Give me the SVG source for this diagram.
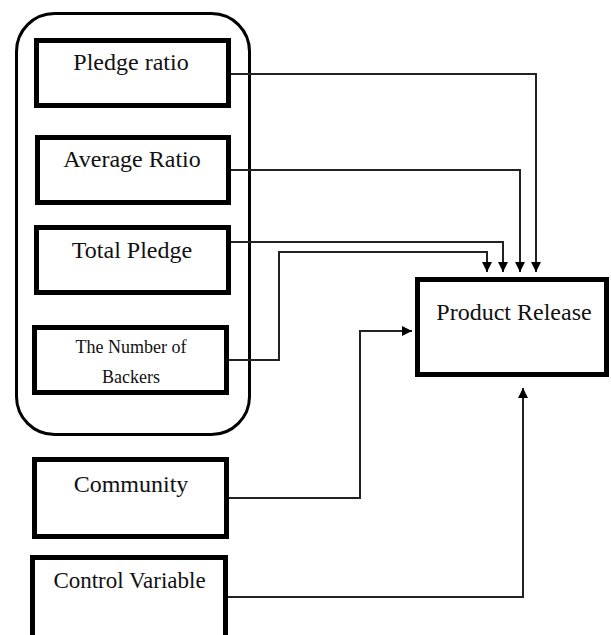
<svg xmlns="http://www.w3.org/2000/svg" width="611" height="635" viewBox="0 0 611 635">
<style>
.box{fill:#fff;stroke:#000;stroke-width:5}
.lbl{font-family:"Liberation Serif","Times New Roman",serif;font-size:24px;fill:#111;text-anchor:middle}
.sm{font-size:18px}
.con{fill:none;stroke:#222;stroke-width:2}
</style>
<defs>
<marker id="arr" markerUnits="userSpaceOnUse" markerWidth="10" markerHeight="10" refX="10" refY="5" orient="auto">
<path d="M0,0 L10,5 L0,10 z" fill="#000"/>
</marker>
</defs>
<rect width="611" height="635" fill="#fff"/>
<g id="group">
<rect x="16.5" y="13.5" width="233" height="421" rx="38" ry="38" fill="none" stroke="#000" stroke-width="3"/>
</g>
<g id="connectors">
<path class="con" d="M231,74 H536 V272" marker-end="url(#arr)"/>
<path class="con" d="M231,170 H520 V272" marker-end="url(#arr)"/>
<path class="con" d="M231,242 H503 V272" marker-end="url(#arr)"/>
<path class="con" d="M229,360 H279 V252 H487 V272" marker-end="url(#arr)"/>
<path class="con" d="M229,498 H360 V331 H412" marker-end="url(#arr)"/>
<path class="con" d="M226,597 H523 V388" marker-end="url(#arr)"/>
</g>
<g id="pledge-ratio">
<rect class="box" x="36.5" y="40.5" width="192" height="65"/>
<text class="lbl" x="131" y="70">Pledge ratio</text>
</g>
<g id="average-ratio">
<rect class="box" x="37.5" y="137.5" width="191" height="65"/>
<text class="lbl" x="132" y="167">Average Ratio</text>
</g>
<g id="total-pledge">
<rect class="box" x="36.5" y="227.5" width="192" height="65"/>
<text class="lbl" x="132" y="258">Total Pledge</text>
</g>
<g id="number-of-backers">
<rect class="box" x="34.5" y="327.5" width="192" height="65"/>
<text class="lbl sm" x="131" y="353">The Number of</text>
<text class="lbl sm" x="131" y="383">Backers</text>
</g>
<g id="community">
<rect class="box" x="34.5" y="459.5" width="192" height="77"/>
<text class="lbl" x="131" y="492">Community</text>
</g>
<g id="control-variable">
<rect class="box" x="32.5" y="557.5" width="193" height="100"/>
<text class="lbl" x="129.5" y="588" style="font-size:23px">Control Variable</text>
</g>
<g id="product-release">
<rect class="box" x="417.5" y="279.5" width="189" height="95"/>
<text class="lbl" x="514" y="320">Product Release</text>
</g>
</svg>
